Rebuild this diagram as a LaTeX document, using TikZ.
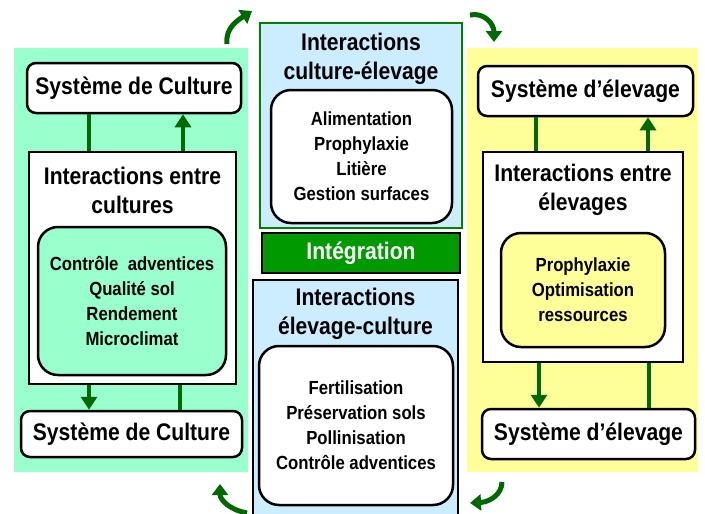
\documentclass[tikz,border=0pt]{standalone}
\usepackage{fontspec}
\setmainfont{Liberation Sans}[FakeStretch=0.88]
\usetikzlibrary{shapes}
\usetikzlibrary{arrows.meta}
\definecolor{mint}{RGB}{153,255,204}
\definecolor{paleyellow}{RGB}{255,255,153}
\definecolor{paleblue}{RGB}{204,236,255}
\definecolor{linkgreen}{RGB}{0,104,0}
\definecolor{framegreen}{RGB}{0,128,0}
\definecolor{integgreen}{RGB}{0,153,0}

\begin{document}
\begin{tikzpicture}[x=1pt,y=-1pt]
			\tikzstyle{sysbox}=[draw, line width=2.5pt, rounded corners=9pt, fill=white, font=\bfseries\fontsize{24}{28}\selectfont, minimum height=50pt]
			\tikzstyle{framebox}=[draw, line width=2.5pt, fill=white, rectangle]
			\tikzstyle{heading}=[align=center, inner sep=0pt, font=\bfseries\fontsize{24}{29}\selectfont]
			\tikzstyle{listbox}=[draw, line width=2.5pt, rounded corners=20pt, align=center, font=\bfseries\fontsize{19}{25}\selectfont]
			\tikzstyle{link}=[draw=linkgreen, line width=3.5pt]
			\tikzstyle{linkarrow}=[link, -{Triangle[length=13pt,width=16pt]}]
			\tikzstyle{turn}=[draw=linkgreen, line width=5pt, -{Triangle[length=11pt,width=16pt]}]
			
			\useasboundingbox (0,0) rectangle (705,514);
			\fill[mint] (14,48) rectangle (248,472);
			\fill[paleyellow] (467,48) rectangle (698,472);
			
			% systeme de culture
			\node[sysbox, minimum width=214pt] (culttop) at (134,88) {Système de Culture};
			\node[framebox, minimum width=207pt, minimum height=232pt] (cultinter) at (132.5,268) {};
			\node[heading] (culthead) at (132.5,190) {Interactions entre\\cultures};
			\node[listbox, fill=mint, minimum width=188pt, minimum height=148pt] (cultlist) at (132,301) {Contrôle~ adventices\\Qualité sol\\Rendement\\Microclimat};
			\node[sysbox, minimum width=221pt, minimum height=46pt] (cultbot) at (131.5,434) {Système de Culture};
			
			% systeme d'elevage
			\node[sysbox, minimum width=215pt] (elevtop) at (585.5,91) {Système d’élevage};
			\node[framebox, minimum width=200pt, minimum height=210pt] (elevinter) at (583,257) {};
			\node[heading] (elevhead) at (583,190) {Interactions entre\\élevages};
			\node[listbox, fill=paleyellow, minimum width=164pt, minimum height=114pt] (elevlist) at (583,290) {Prophylaxie\\Optimisation\\ressources};
			\node[sysbox, minimum width=213pt] (elevbot) at (588.5,434) {Système d’élevage};
			
			% integration
			\node[framebox, fill=paleblue, draw=framegreen, minimum width=202pt, minimum height=205pt] (ceframe) at (361,125.5) {};
			\node[heading] (cehead) at (361,58.5) {Interactions\\culture-élevage};
			\node[listbox, fill=white, minimum width=181pt, minimum height=133pt] (celist) at (361.5,156.5) {Alimentation\\Prophylaxie\\Litière\\Gestion surfaces};
			\node[framebox, fill=integgreen, text=white, font=\bfseries\fontsize{24}{28}\selectfont, minimum width=198pt, minimum height=40pt] (integ) at (361,253) {Intégration};
			\node[framebox, fill=paleblue, minimum width=205pt, minimum height=250pt] (ecframe) at (355.5,405) {};
			\node[heading] (echead) at (355.5,313.5) {Interactions\\élevage-culture};
			\node[listbox, fill=white, minimum width=194pt, minimum height=159pt] (eclist) at (356,425.5) {Fertilisation\\Préservation sols\\Pollinisation\\Contrôle adventices};
			
			\draw[link] (cultinter.north -| 89,0) -- (culttop.south -| 89,0);
			\draw[linkarrow] (cultinter.north -| 183,0) -- (culttop.south -| 183,0);
			\draw[linkarrow] (cultinter.south -| 89,0) -- (cultbot.north -| 89,0);
			\draw[link] (cultinter.south -| 180,0) -- (cultbot.north -| 180,0);
			\draw[link] (elevinter.north -| 536,0) -- (elevtop.south -| 536,0);
			\draw[linkarrow] (elevinter.north -| 648,0) -- (elevtop.south -| 648,0);
			\draw[linkarrow] (elevinter.south -| 539,0) -- (elevbot.north -| 539,0);
			\draw[link] (elevinter.south -| 649,0) -- (elevbot.north -| 649,0);
			
			% cycle
			\coordinate (turnA1) at (227,44); \coordinate (turnA2) at (252,11);
			\coordinate (turnB1) at (470,15); \coordinate (turnB2) at (494,42);
			\coordinate (turnC1) at (502,482); \coordinate (turnC2) at (470,503);
			\coordinate (turnD1) at (247,513); \coordinate (turnD2) at (220,484);
			\draw[turn] (turnA1) .. controls (225,28) and (238,20) .. (turnA2);
			\draw[turn] (turnB1) .. controls (484,12) and (494,24) .. (turnB2);
			\draw[turn] (turnC1) .. controls (502,494) and (490,502) .. (turnC2);
			\draw[turn] (turnD1) .. controls (230,510) and (220,500) .. (turnD2);
\end{tikzpicture}
\end{document}
